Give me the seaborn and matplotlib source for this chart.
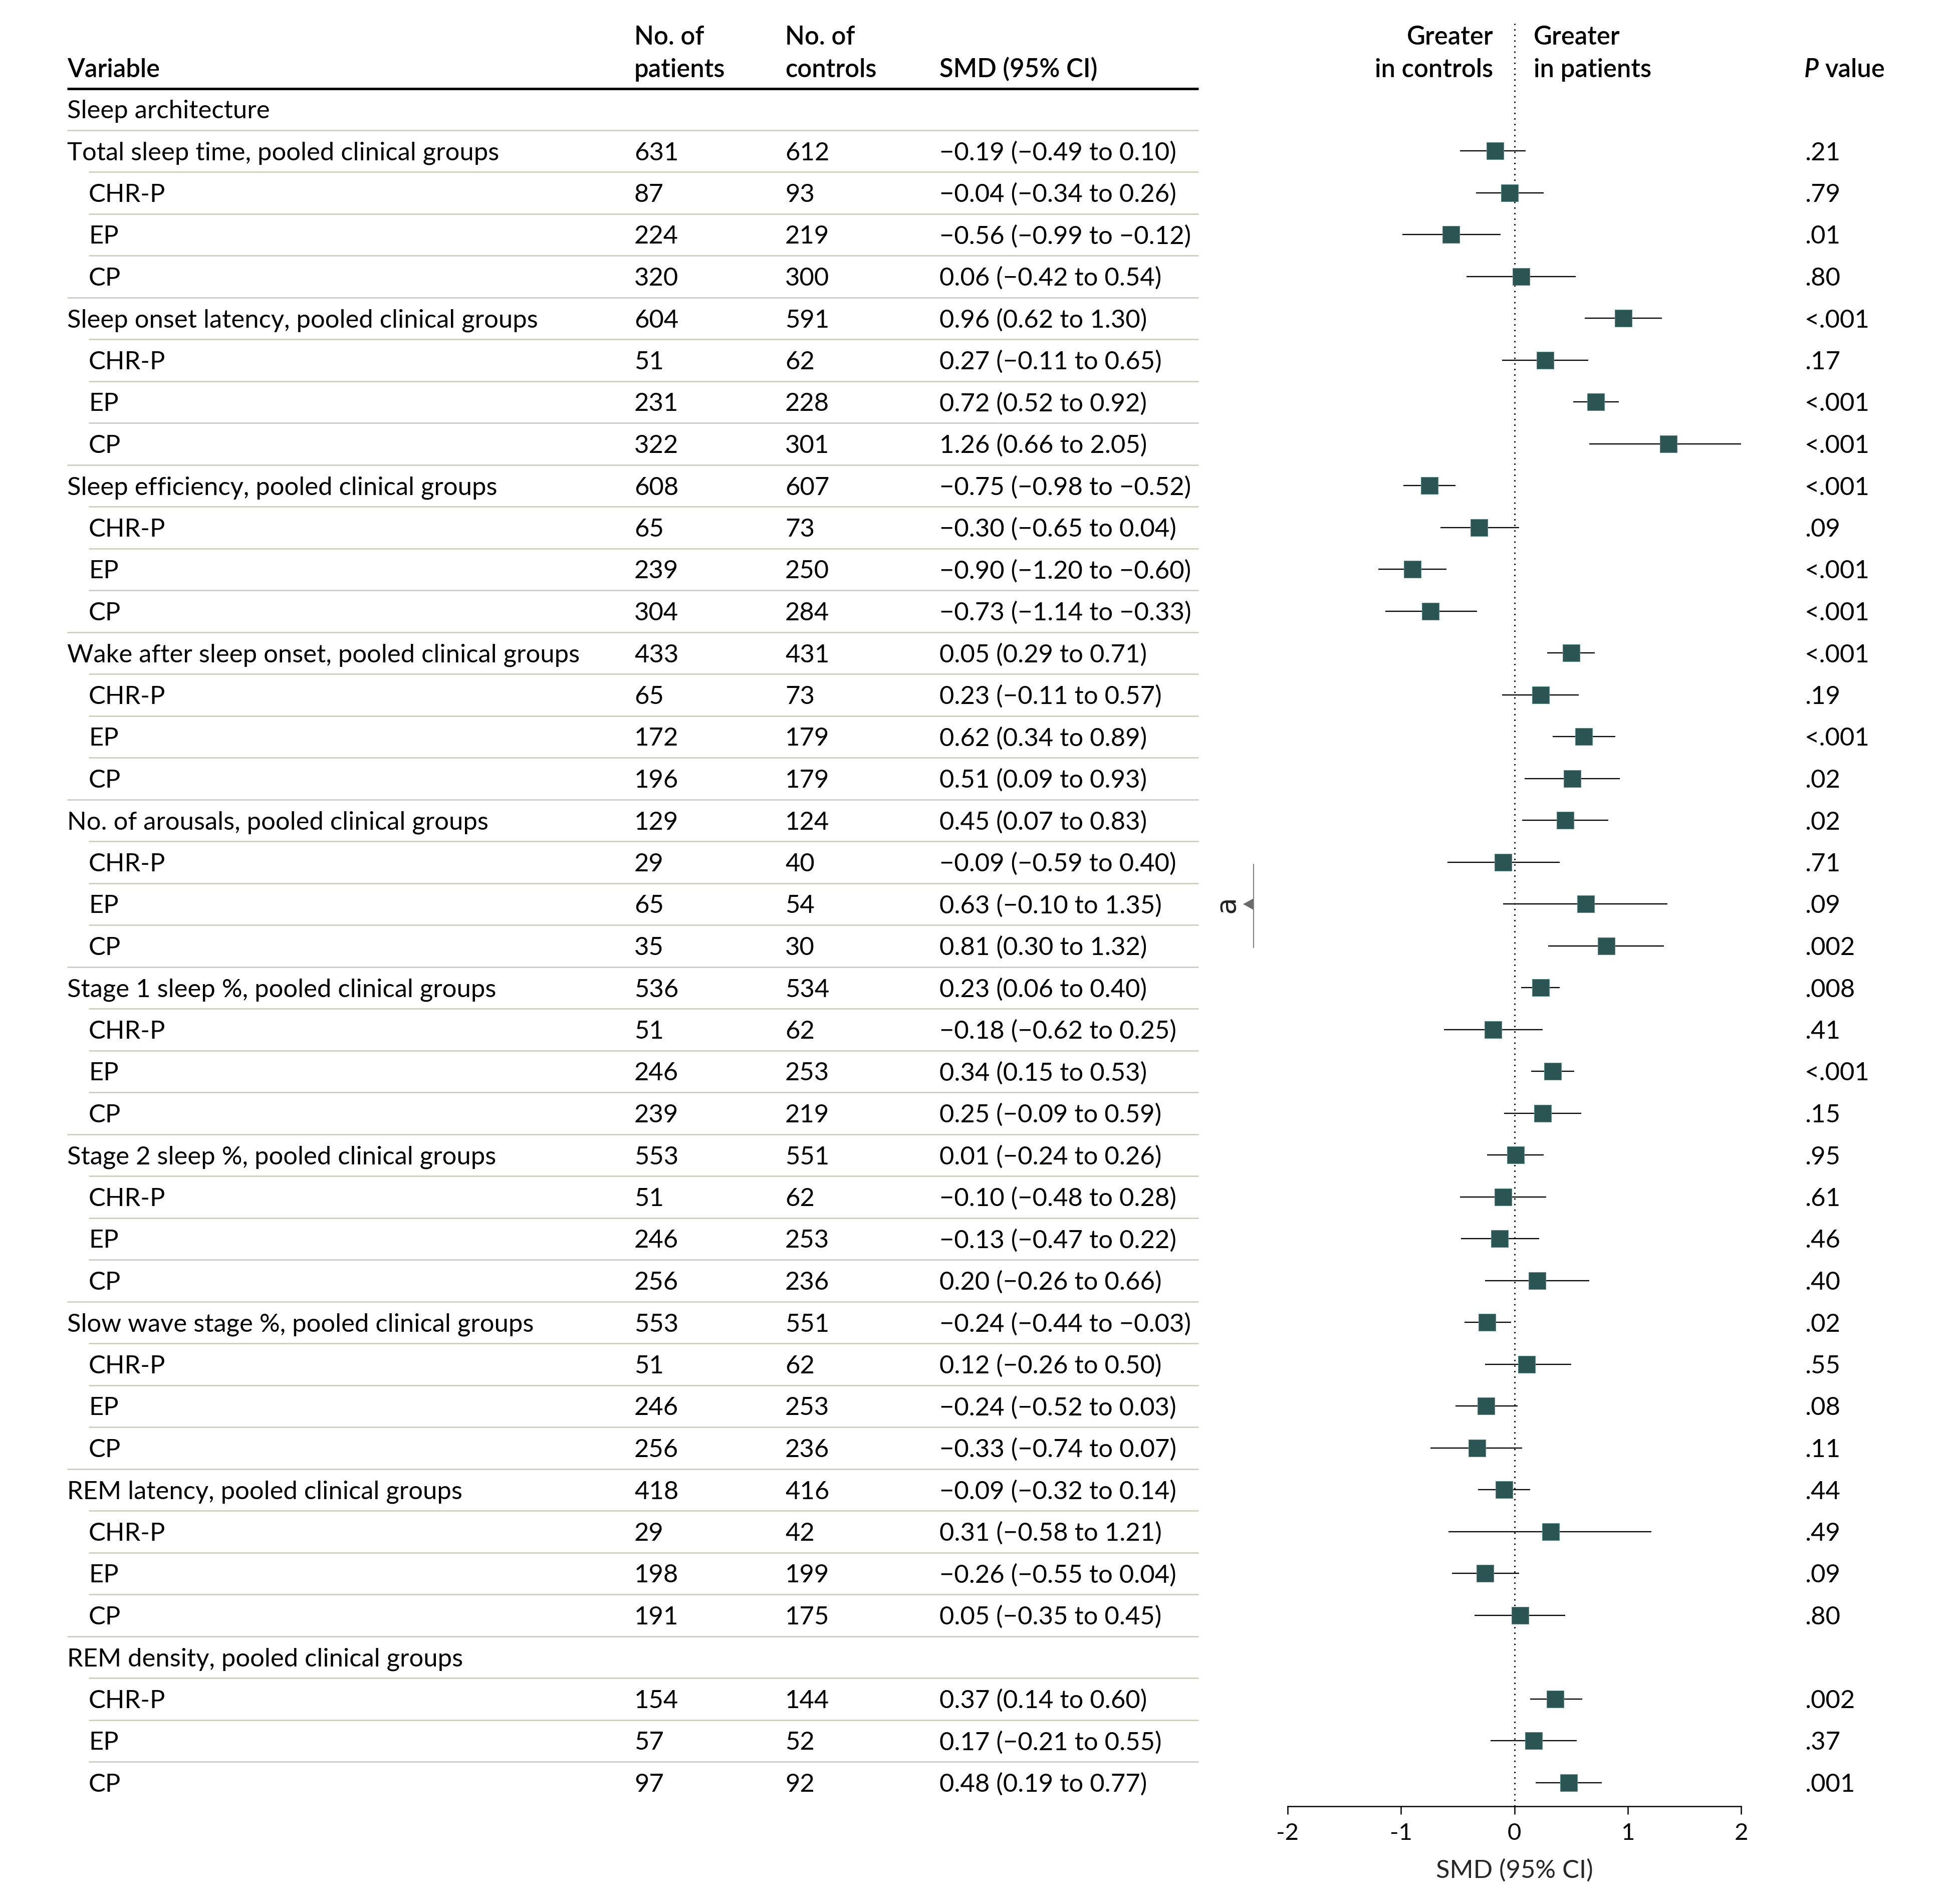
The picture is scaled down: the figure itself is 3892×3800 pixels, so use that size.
import numpy as np
import pandas as pd
import matplotlib
matplotlib.use("Agg")
import matplotlib.pyplot as plt
import seaborn as sns

# ---------------- data ----------------
SUB = {"CHR-P", "EP", "CP"}
labels = [
    "Sleep architecture",
    "Total sleep time, pooled clinical groups", "CHR-P", "EP", "CP",
    "Sleep onset latency, pooled clinical groups", "CHR-P", "EP", "CP",
    "Sleep efficiency, pooled clinical groups", "CHR-P", "EP", "CP",
    "Wake after sleep onset, pooled clinical groups", "CHR-P", "EP", "CP",
    "No. of arousals, pooled clinical groups", "CHR-P", "EP", "CP",
    "Stage 1 sleep %, pooled clinical groups", "CHR-P", "EP", "CP",
    "Stage 2 sleep %, pooled clinical groups", "CHR-P", "EP", "CP",
    "Slow wave stage %, pooled clinical groups", "CHR-P", "EP", "CP",
    "REM latency, pooled clinical groups", "CHR-P", "EP", "CP",
    "REM density, pooled clinical groups", "CHR-P", "EP", "CP",
]
n_patients = ["", "631", "87", "224", "320", "604", "51", "231", "322",
              "608", "65", "239", "304", "433", "65", "172", "196",
              "129", "29", "65", "35", "536", "51", "246", "239",
              "553", "51", "246", "256", "553", "51", "246", "256",
              "418", "29", "198", "191", "", "154", "57", "97"]
n_controls = ["", "612", "93", "219", "300", "591", "62", "228", "301",
              "607", "73", "250", "284", "431", "73", "179", "179",
              "124", "40", "54", "30", "534", "62", "253", "219",
              "551", "62", "253", "236", "551", "62", "253", "236",
              "416", "42", "199", "175", "", "144", "52", "92"]
smd_text = ["",
    "\u22120.19 (\u22120.49 to 0.10)", "\u22120.04 (\u22120.34 to 0.26)",
    "\u22120.56 (\u22120.99 to \u22120.12)", "0.06 (\u22120.42 to 0.54)",
    "0.96 (0.62 to 1.30)", "0.27 (\u22120.11 to 0.65)",
    "0.72 (0.52 to 0.92)", "1.26 (0.66 to 2.05)",
    "\u22120.75 (\u22120.98 to \u22120.52)", "\u22120.30 (\u22120.65 to 0.04)",
    "\u22120.90 (\u22121.20 to \u22120.60)", "\u22120.73 (\u22121.14 to \u22120.33)",
    "0.05 (0.29 to 0.71)", "0.23 (\u22120.11 to 0.57)",
    "0.62 (0.34 to 0.89)", "0.51 (0.09 to 0.93)",
    "0.45 (0.07 to 0.83)", "\u22120.09 (\u22120.59 to 0.40)",
    "0.63 (\u22120.10 to 1.35)", "0.81 (0.30 to 1.32)",
    "0.23 (0.06 to 0.40)", "\u22120.18 (\u22120.62 to 0.25)",
    "0.34 (0.15 to 0.53)", "0.25 (\u22120.09 to 0.59)",
    "0.01 (\u22120.24 to 0.26)", "\u22120.10 (\u22120.48 to 0.28)",
    "\u22120.13 (\u22120.47 to 0.22)", "0.20 (\u22120.26 to 0.66)",
    "\u22120.24 (\u22120.44 to \u22120.03)", "0.12 (\u22120.26 to 0.50)",
    "\u22120.24 (\u22120.52 to 0.03)", "\u22120.33 (\u22120.74 to 0.07)",
    "\u22120.09 (\u22120.32 to 0.14)", "0.31 (\u22120.58 to 1.21)",
    "\u22120.26 (\u22120.55 to 0.04)", "0.05 (\u22120.35 to 0.45)",
    "",
    "0.37 (0.14 to 0.60)", "0.17 (\u22120.21 to 0.55)", "0.48 (0.19 to 0.77)",
]
p_values = ["", ".21", ".79", ".01", ".80", "<.001", ".17", "<.001", "<.001",
            "<.001", ".09", "<.001", "<.001", "<.001", ".19", "<.001", ".02",
            ".02", ".71", ".09", ".002", ".008", ".41", "<.001", ".15",
            ".95", ".61", ".46", ".40", ".02", ".55", ".08", ".11",
            ".44", ".49", ".09", ".80", "", ".002", ".37", ".001"]
# plotted estimates (as drawn in the figure)
smd_plot = [np.nan, -0.17, -0.04, -0.56, 0.06, 0.96, 0.27, 0.72, 1.36,
            -0.75, -0.31, -0.90, -0.74, 0.50, 0.23, 0.61, 0.51,
            0.45, -0.10, 0.63, 0.81, 0.23, -0.19, 0.34, 0.25,
            0.01, -0.10, -0.13, 0.20, -0.24, 0.11, -0.25, -0.33,
            -0.09, 0.32, -0.26, 0.05, np.nan, 0.36, 0.17, 0.48]
lo_plot = [np.nan, -0.48, -0.34, -0.99, -0.42, 0.62, -0.11, 0.52, 0.66,
           -0.98, -0.65, -1.20, -1.14, 0.29, -0.11, 0.34, 0.09,
           0.07, -0.59, -0.10, 0.30, 0.06, -0.62, 0.15, -0.09,
           -0.24, -0.48, -0.47, -0.26, -0.44, -0.26, -0.52, -0.74,
           -0.32, -0.58, -0.55, -0.35, np.nan, 0.14, -0.21, 0.19]
hi_plot = [np.nan, 0.10, 0.26, -0.12, 0.54, 1.30, 0.65, 0.92, 2.00,
           -0.52, 0.04, -0.60, -0.33, 0.71, 0.57, 0.89, 0.93,
           0.83, 0.40, 1.35, 1.32, 0.40, 0.25, 0.53, 0.59,
           0.26, 0.28, 0.22, 0.66, -0.03, 0.50, 0.03, 0.07,
           0.14, 1.21, 0.04, 0.45, np.nan, 0.60, 0.55, 0.77]
x_ticks = [-2, -1, 0, 1, 2]

# ---------------- style ----------------
sns.set_theme(style="white")
plt.rcParams["font.family"] = ["Lato", "DejaVu Sans"]
plt.rcParams["axes.unicode_minus"] = False

W, H, DPI = 3892, 3800, 100
fig = plt.figure(figsize=(W / DPI, H / DPI), dpi=DPI)
fig.patch.set_facecolor("white")

ROW0, STEP = 218.0, 83.5
def rowy(i):
    return ROW0 + STEP * i

FS = 36.5
HDR_W = "semibold"
SEP_COLOR = "#c6c9b9"
BOX_COLOR = "#2a5553"

# table axis in pixel coordinates
ax_t = fig.add_axes([0, 0, 1, 1])
ax_t.set_xlim(0, W)
ax_t.set_ylim(H, 0)
ax_t.axis("off")

X_VAR, X_SUB, X_NP, X_NC, X_SMD, X_P = 134, 177, 1266, 1567, 1875, 3602
X_END = 2392
B1, B2 = 89, 154

def t(x, y, s, **kw):
    kw.setdefault("fontsize", FS)
    kw.setdefault("va", "baseline")
    kw.setdefault("color", "black")
    ax_t.text(x, y, s, **kw)

# header
t(X_VAR, B2, "Variable", weight=HDR_W)
t(X_NP, B1, "No. of", weight=HDR_W)
t(X_NP, B2, "patients", weight=HDR_W)
t(X_NC, B1, "No. of", weight=HDR_W)
t(X_NC, B2, "controls", weight=HDR_W)
t(X_SMD, B2, "SMD (95% CI)", weight=HDR_W)
t(2980, B1, "Greater", weight=HDR_W, ha="right")
t(2980, B2, "in controls", weight=HDR_W, ha="right")
t(3061, B1, "Greater", weight=HDR_W, ha="left")
t(3061, B2, "in patients", weight=HDR_W, ha="left")
t(3601, B2, "P", weight=HDR_W, style="italic")
t(3643, B2, "value", weight=HDR_W)

ax_t.hlines(177, X_VAR, X_END, color="black", lw=3.6)

n = len(labels)
for i in range(n):
    y = rowy(i) + 18
    is_sub = labels[i] in SUB
    t(X_SUB if is_sub else X_VAR, y, labels[i])
    t(X_NP, y, n_patients[i])
    t(X_NC, y, n_controls[i])
    t(X_SMD, y, smd_text[i])
    t(X_P, y, p_values[i])
    if i < n - 1:
        nxt_sub = labels[i + 1] in SUB
        ax_t.hlines(rowy(i + 0.5), X_SUB if nxt_sub else X_VAR, X_END,
                    color=SEP_COLOR, lw=1.8)

# bracket "a"
ya, yb = rowy(18), rowy(20)
ax_t.plot([2502, 2502], [ya + 4, yb + 3], color="#808080", lw=1.5)
ax_t.fill([2503, 2481, 2503], [rowy(19) - 12, rowy(19), rowy(19) + 12],
          color="#6a6a6a", lw=0)
ax_t.text(2448, rowy(19), "a", rotation=90, ha="center", va="center",
          fontsize=40, color="#222222", family=["DejaVu Sans"])

# ---------------- forest plot ----------------
Y_TOP, Y_AX = 47, 3605
XL, XR = 2570, 3475
ax_f = fig.add_axes([XL / W, 1 - Y_AX / H, (XR - XL) / W, (Y_AX - Y_TOP) / H])
ax_f.patch.set_alpha(0)

df = pd.DataFrame({"row": np.arange(n), "smd": smd_plot,
                   "lo": lo_plot, "hi": hi_plot}).dropna()

ax_f.hlines(df["row"], df["lo"], df["hi"], color="black", lw=1.7, zorder=2)
ax_f.axvline(0, color="black", lw=2.0, ls=(0, (1, 3.0)), zorder=3)
sns.scatterplot(data=df, x="smd", y="row", marker="s", s=600,
                color=BOX_COLOR, edgecolor="#5b8b88", linewidth=0.8,
                ax=ax_f, zorder=4, legend=False)

ax_f.set_xlim(-2, 2)
ax_f.set_ylim((Y_AX - ROW0) / STEP, (Y_TOP - ROW0) / STEP)
ax_f.set_xticks(x_ticks)
ax_f.set_xticklabels([str(v) for v in x_ticks])
ax_f.set_yticks([])
ax_f.set_ylabel("")
ax_f.set_xlabel("SMD (95% CI)", fontsize=FS, labelpad=22)
for s in ["top", "right", "left"]:
    ax_f.spines[s].set_visible(False)
ax_f.spines["bottom"].set_color("black")
ax_f.spines["bottom"].set_linewidth(1.8)
ax_f.tick_params(axis="x", bottom=True, direction="out", length=11.5,
                 width=1.8, color="black", labelsize=34, pad=12,
                 labelcolor="black")
ax_f.grid(False)

fig.savefig("out.png", dpi=DPI, facecolor="white")
